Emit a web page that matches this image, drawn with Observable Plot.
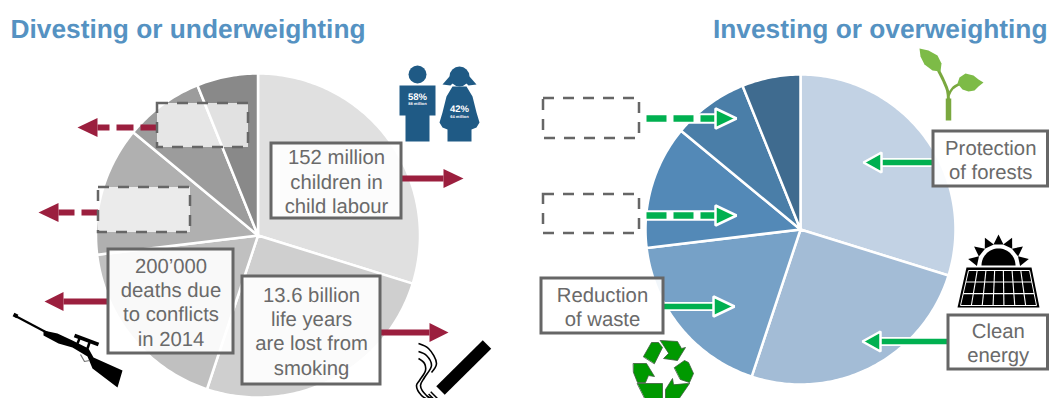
<!DOCTYPE html>
<html>
<head>
<meta charset="utf-8">
<script src="https://cdn.jsdelivr.net/npm/d3@7"></script>
<script src="https://cdn.jsdelivr.net/npm/@observablehq/plot@0.6"></script>
<style>
  html, body { margin: 0; padding: 0; background: #fff; }
  svg { display: block; }
</style>
</head>
<body>
<div id="chart"></div>
<script>
// Shares of each pie, clockwise from twelve o'clock
const sliceShares = [29.8, 25.3, 18, 12.9, 7.9, 6.1];
const divestColors = ["#e0e0e0", "#cfcfcf", "#c0c0c0", "#b0b0b0", "#9c9c9c", "#898989"];
const investColors = ["#c2d2e4", "#a3bcd6", "#76a1c7", "#5389b7", "#4a7ea8", "#3f6b8f"];

const panelTitles = ["Divesting or underweighting", "Investing or overweighting"];
const divestLabels = ["152 million\nchildren in\nchild labour", "13.6 billion\nlife years\nare lost from\nsmoking", "200’000\ndeaths due\nto conflicts\nin 2014"];
const investLabels = ["Protection\nof forests", "Clean\nenergy", "Reduction\nof waste"];
const childShares = ["58%", "42%"];
const childCounts = ["88 million", "64 million"];

// Layout, in page pixels
const pies = [
  {cx: 257.5, cy: 235, r: 162, colors: divestColors},
  {cx: 800, cy: 229, r: 155, colors: investColors}
];
const solidBoxes = [
  {x1: 271, x2: 401, y1: 143, y2: 218, text: divestLabels[0]},
  {x1: 242, x2: 380, y1: 276, y2: 384, text: divestLabels[1]},
  {x1: 108, x2: 233, y1: 249, y2: 353, text: divestLabels[2]},
  {x1: 933, x2: 1047.5, y1: 131, y2: 186, text: investLabels[0]},
  {x1: 948, x2: 1047.5, y1: 315, y2: 369, text: investLabels[1]},
  {x1: 541, x2: 663, y1: 278, y2: 333, text: investLabels[2]}
];
const dashedBoxes = [
  {x1: 157, x2: 248, y1: 103, y2: 147, fill: "#fff", fillOpacity: 0.75},
  {x1: 98, x2: 190, y1: 187, y2: 232, fill: "#fff", fillOpacity: 0.75},
  {x1: 543, x2: 639, y1: 98, y2: 138, fill: "none", fillOpacity: 1},
  {x1: 543, x2: 639, y1: 194, y2: 233, fill: "none", fillOpacity: 1}
];
const CRIMSON = "#9b1f3e", GREEN = "#00b050", NAVY = "#1f5a85";
const redArrows = [
  {from: 157, base: 97, tip: 77, y: 127, dash: true},
  {from: 98, base: 58, tip: 38, y: 212, dash: true},
  {from: 401, base: 443, tip: 463, y: 178},
  {from: 108, base: 63, tip: 44, y: 301},
  {from: 380, base: 429, tip: 448, y: 332}
];
const greenArrows = [
  {from: 646, base: 715, tip: 736, y: 118, dash: true},
  {from: 646, base: 715, tip: 736, y: 215, dash: true},
  {from: 663, base: 713, tip: 734, y: 306},
  {from: 933, base: 881, tip: 863, y: 162},
  {from: 948, base: 880, tip: 862, y: 341}
];

// One closed outline per slice, with angles taken from the shares
function sliceOutlines({cx, cy, r, colors}) {
  const arcs = d3.pie().sort(null)(sliceShares);
  return arcs.flatMap((a, i) => {
    const steps = Math.ceil((a.endAngle - a.startAngle) * 60);
    const rim = d3.range(steps + 1).map(k => {
      const t = a.startAngle + (a.endAngle - a.startAngle) * k / steps;
      return {px: cx + r * Math.sin(t), py: cy - r * Math.cos(t)};
    });
    return [{px: cx, py: cy}, ...rim].map(p => ({...p, slice: i, color: colors[i]}));
  });
}

const shape = (pts, fill, opts = {}) =>
  Plot.line(pts, {x: d => d[0], y: d => d[1], fill, stroke: "none", curve: "linear-closed", ...opts});
const stroke = (pts, color, width, opts = {}) =>
  Plot.line(pts, {x: d => d[0], y: d => d[1], stroke: color, strokeWidth: width, fill: "none", strokeLinecap: "butt", ...opts});

function arrowMarks(a, color, halo) {
  const shaft = [[a.from, a.y], [a.base, a.y]];
  const half = halo ? 10 : 9.5;
  const head = [[a.tip, a.y], [a.base, a.y - half], [a.base, a.y + half]];
  const width = halo ? (a.dash ? 6.5 : 5.5) : 6;
  return [
    halo ? stroke(shaft, "#fff", a.dash ? 10.5 : 9) : null,
    stroke(shaft, color, width, a.dash ? {strokeDasharray: halo ? "20,7" : "17,7"} : {}),
    shape(head, color, halo ? {stroke: "#fff", strokeWidth: 2.5, strokeLinejoin: "miter"} : {})
  ];
}

// Pictograms
function childrenIcon() {
  return [
    Plot.dot([[417, 74]], {x: d => d[0], y: d => d[1], r: 9, fill: NAVY, stroke: "none"}),
    Plot.dot([[459, 76]], {x: d => d[0], y: d => d[1], r: 10, fill: NAVY, stroke: "none"}),
    shape([[399, 85], [435, 85], [435, 115], [429, 115], [429, 141], [405, 141], [405, 115], [399, 115]], NAVY),
    shape([[442, 84], [449, 76], [454, 81], [450, 85]], NAVY),
    shape([[476, 84], [469, 76], [464, 81], [468, 85]], NAVY),
    shape([[452, 86], [466, 86], [472, 96], [476, 112], [479, 122], [476, 127], [471, 129], [471, 141], [447, 141], [447, 129], [442, 127], [439, 122], [442, 112], [446, 96]], NAVY),
    Plot.text(childShares, {x: [417, 459], y: [96, 108.5], text: d => d, fill: "#fff", fontSize: 9.5, fontWeight: "bold"}),
    Plot.text(childCounts, {x: [417, 459], y: [103.5, 116.5], text: d => d, fill: "#fff", fontSize: 4, fontWeight: "bold"})
  ];
}
function rifleIcon() {
  return [
    stroke([[13, 314], [17, 316]], "#000", 4),
    stroke([[14, 315], [48, 333]], "#000", 2.2),
    shape([[43, 330], [57, 333], [72, 340], [88, 348], [93, 357], [122, 370], [117, 387], [92, 368], [87, 356], [72, 347], [58, 343], [43, 335]], "#000"),
    stroke([[74, 335], [98, 344]], "#000", 4),
    stroke([[79, 338], [77, 343]], "#000", 2.5),
    stroke([[89, 342], [87, 348]], "#000", 2.5),
    stroke([[80, 354], [84, 361], [89, 360]], "#777", 1.2)
  ];
}
function cigaretteIcon() {
  const strands = [
    [[418, 343], [428, 348], [436, 363], [431, 372]],
    [[418, 351], [426, 355], [431, 365], [424, 377], [420, 385], [426, 395], [434, 399]],
    [[418, 358], [424, 363], [425, 370], [419, 380], [416, 385], [421, 395], [430, 400]]
  ];
  return [
    stroke([[486.5, 344], [440, 390]], "#000", 12),
    stroke([[435, 395], [430, 400]], "#000", 12, {strokeDasharray: "1.5,1.5"}),
    ...strands.map(s => stroke(s, "#000", 1.6, {curve: "catmull-rom"}))
  ];
}
function solarIcon() {
  const [sx, sy] = [998, 265];
  const rays = d3.range(7).map(i => -90 + (i - 3) * 26).map(deg => {
    const t = deg * Math.PI / 180, u = [Math.cos(t), Math.sin(t)], v = [-u[1], u[0]];
    return [
      [sx + 31 * u[0], sy + 31 * u[1]],
      [sx + 21 * u[0] + 5 * v[0], sy + 21 * u[1] + 5 * v[1]],
      [sx + 21 * u[0] - 5 * v[0], sy + 21 * u[1] - 5 * v[1]]
    ];
  });
  const lerp = (a, b, t) => a + (b - a) * t;
  const cols = d3.range(1, 7).map(i => i / 7);
  const rows = [0.33, 0.66];
  const sun = d3.range(0, 181, 6).map(d => [sx - 17 * Math.cos(d * Math.PI / 180), sy - 17 * Math.sin(d * Math.PI / 180)]);
  return [
    ...rays.map(r => shape(r, "#000")),
    shape(sun, "#000"),
    shape([[966, 267], [1031, 267], [1039, 307], [957, 307]], "#000"),
    ...cols.map(t => stroke([[lerp(968, 1029, t), 270], [lerp(960, 1036, t), 305]], "#fff", 1.1)),
    ...rows.map(t => stroke([[lerp(968, 960, t), lerp(270, 305, t)], [lerp(1029, 1036, t), lerp(270, 305, t)]], "#fff", 1.1)),
    stroke([[968, 270], [1029, 270], [1036, 305], [960, 305], [968, 270]], "#fff", 1)
  ];
}
function recycleIcon() {
  const parts = [
    [[643, 356], [651, 342], [658, 342], [662, 347], [654, 363]],
    [[660, 340], [677, 341], [681, 348], [685, 347], [677, 360], [663, 358], [668, 353]],
    [[674, 367], [684, 360], [688, 362], [693, 373], [689, 382], [680, 379]],
    [[689, 383], [678, 399], [665, 399], [665, 389], [672, 378], [673, 384]],
    [[637, 383], [662, 383], [662, 399], [645, 399]],
    [[633, 363], [646, 363], [654, 376], [648, 375], [645, 382], [637, 382], [633, 372]]
  ];
  return parts.map(p => shape(p, "#009900", {stroke: "#3d5c3d", strokeWidth: 0.8}));
}
function sproutIcon() {
  return [
    stroke([[948, 120], [948, 98]], "#7aa83f", 5.5),
    stroke([[948, 100], [947, 90], [943, 80], [938, 70]], "#7aa83f", 3, {curve: "catmull-rom"}),
    stroke([[948, 95], [952, 88], [960, 83]], "#7aa83f", 2.5, {curve: "catmull-rom"}),
    shape([[919, 48], [928, 50], [937, 55], [941, 63], [940, 71], [932, 70], [924, 64], [920, 56]], "#7dbb47"),
    shape([[983, 82], [978, 79], [973, 75], [965, 73], [959, 77], [957, 83], [962, 89], [968, 91], [974, 90], [978, 86]], "#7dbb47")
  ];
}

const plot = Plot.plot({
  width: 1049,
  height: 398,
  margin: 0,
  x: {domain: [0, 1049], range: [0, 1049], axis: null},
  y: {domain: [0, 398], range: [0, 398], axis: null},
  style: {background: "#fff", fontFamily: "Liberation Sans", textRendering: "geometricPrecision"},
  marks: [
    // Pies
    ...pies.map(p => Plot.line(sliceOutlines(p), {
      x: "px", y: "py", z: "slice", fill: "color",
      stroke: "#fff", strokeWidth: 2.5, strokeLinejoin: "round", curve: "linear-closed"
    })),

    // Headings
    Plot.text([panelTitles[0]], {x: 10, y: 29, text: d => d, textAnchor: "start", fontSize: 26.3, fontWeight: "bold", fill: "#5592c2"}),
    Plot.text([panelTitles[1]], {x: 1047, y: 29, text: d => d, textAnchor: "end", fontSize: 26.3, fontWeight: "bold", fill: "#5592c2"}),

    // Pictograms
    ...childrenIcon(), ...rifleIcon(), ...cigaretteIcon(), ...solarIcon(), ...recycleIcon(), ...sproutIcon(),

    // Arrows
    ...redArrows.flatMap(a => arrowMarks(a, CRIMSON, false)),
    ...greenArrows.flatMap(a => arrowMarks(a, GREEN, true)),

    // Placeholder and labelled boxes
    ...dashedBoxes.map(b => Plot.rect([b], {
      x1: "x1", x2: "x2", y1: "y1", y2: "y2", fill: b.fill, fillOpacity: b.fillOpacity,
      stroke: "#666", strokeWidth: 2.5, strokeDasharray: "11,9"
    })),
    Plot.rect(solidBoxes, {x1: "x1", x2: "x2", y1: "y1", y2: "y2", fill: "#fff", fillOpacity: 0.9, stroke: "#666", strokeWidth: 3}),
    Plot.text(solidBoxes, {
      x: d => (d.x1 + d.x2) / 2, y: d => (d.y1 + d.y2) / 2, text: "text",
      fontSize: 20.3, lineHeight: 1.2, fill: "#6a6a6a"
    })
  ]
});
document.getElementById("chart").append(plot);
</script>
</body>
</html>
